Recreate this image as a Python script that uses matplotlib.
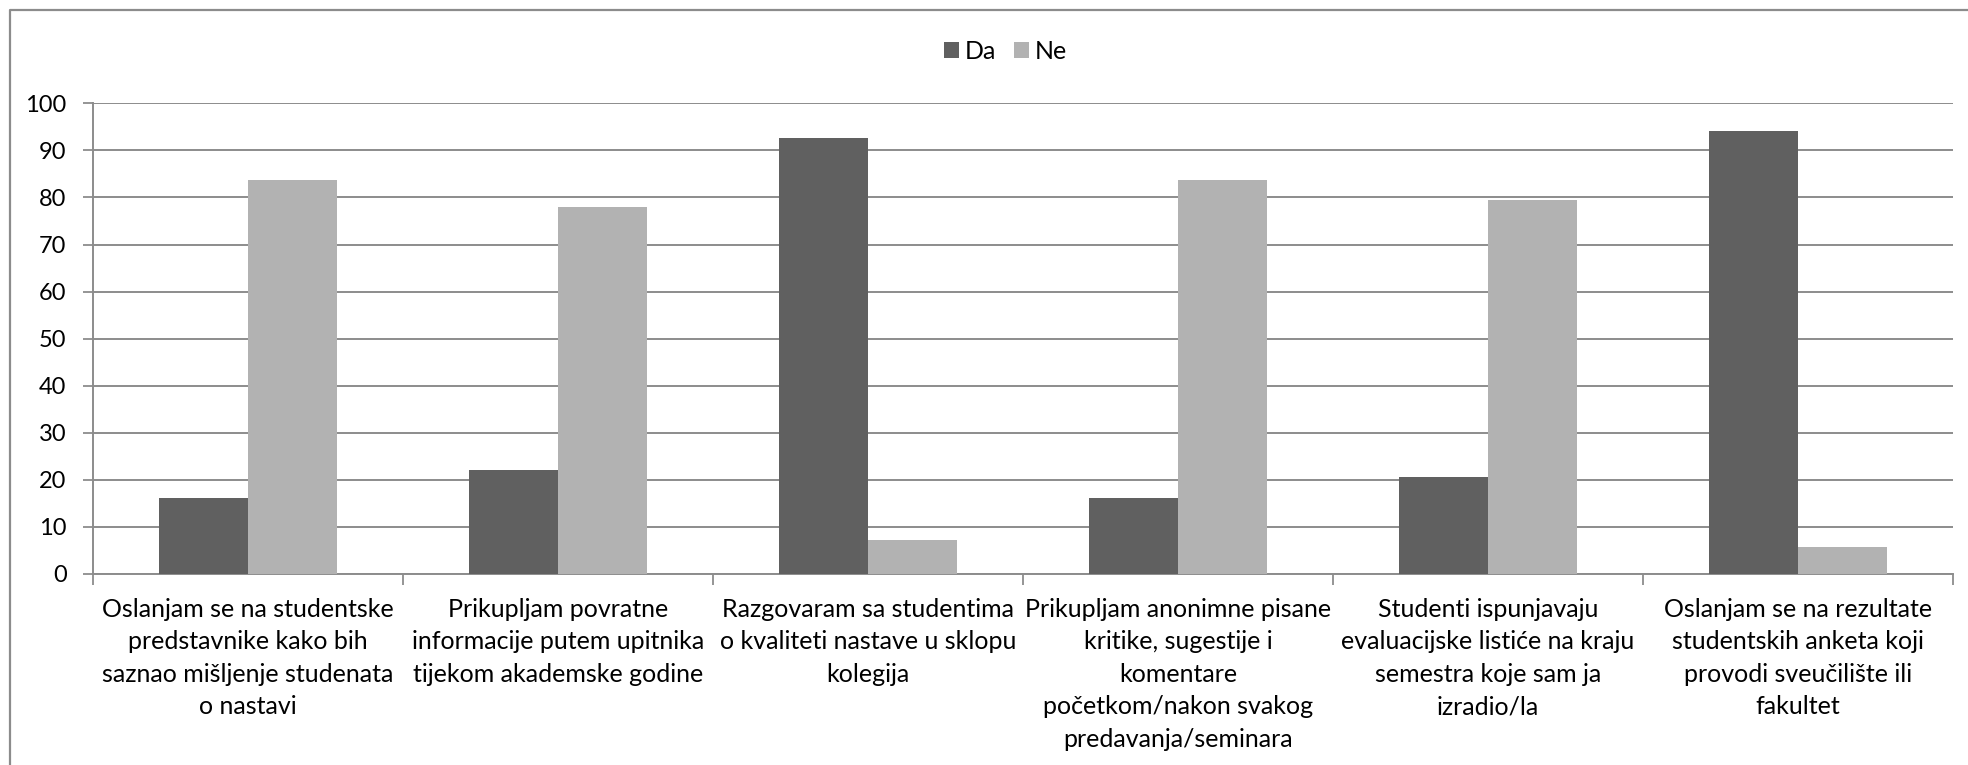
import matplotlib
matplotlib.use('Agg')
import matplotlib.pyplot as plt
from matplotlib.lines import Line2D
import numpy as np

# Survey answers (percent)
categories = [
    "Oslanjam se na studentske\npredstavnike kako bih\nsaznao mišljenje studenata\no nastavi",
    "Prikupljam povratne\ninformacije putem upitnika\ntijekom akademske godine",
    "Razgovaram sa studentima\no kvaliteti nastave u sklopu\nkolegija",
    "Prikupljam anonimne pisane\nkritike, sugestije i\nkomentare\npočetkom/nakon svakog\npredavanja/seminara",
    "Studenti ispunjavaju\nevaluacijske listiće na kraju\nsemestra koje sam ja\nizradio/la",
    "Oslanjam se na rezultate\nstudentskih anketa koji\nprovodi sveučilište ili\nfakultet",
]
da = [16.2, 22.1, 92.7, 16.2, 20.6, 94.2]
ne = [83.8, 77.9, 7.3, 83.8, 79.4, 5.8]
series_names = ["Da", "Ne"]
yticks = [0, 10, 20, 30, 40, 50, 60, 70, 80, 90, 100]

plt.rcParams['font.family'] = ['Lato', 'DejaVu Sans']

fig = plt.figure(figsize=(19.68, 7.65), dpi=100)
ax = fig.add_axes([93/1968, 191/765, 1860/1968, 470.7/765])

x = np.arange(len(categories))
w = 1/3.5
ax.bar(x - w/2, da, width=w, color='#606060', label=series_names[0], zorder=3)
ax.bar(x + w/2, ne, width=w, color='#b2b2b2', label=series_names[1], zorder=3)

ax.set_xlim(-0.5, len(categories) - 0.5)
ax.set_ylim(0, 100)
ax.set_yticks(yticks)
ax.yaxis.grid(True, color='#8c8c8c', linewidth=1.4, zorder=0)

# category boundaries carry the tick marks, labels sit in the middle
ax.set_xticks(np.arange(len(categories) + 1) - 0.5)
ax.set_xticklabels([])
ax.set_xticks(x, minor=True)
ax.set_xticklabels(categories, minor=True, fontsize=18, linespacing=1.5)
ax.tick_params(axis='x', which='major', length=8, width=1.3, color='#8c8c8c')
ax.tick_params(axis='x', which='minor', length=0, pad=17)
ax.tick_params(axis='y', length=7, width=1.3, color='#8c8c8c', labelsize=17, pad=12)

for s in ['top', 'right']:
    ax.spines[s].set_visible(False)
for s in ['left', 'bottom']:
    ax.spines[s].set_color('#8c8c8c')
    ax.spines[s].set_linewidth(1.4)

fig.legend(loc='center', bbox_to_anchor=(0.511, 0.933), ncol=2, frameon=False,
           fontsize=18, handlelength=0.6, handleheight=0.6, handletextpad=0.25,
           columnspacing=0.7)

# chart-area border (left and top only visible)
fig.add_artist(Line2D([10/1968, 10/1968, 1], [0, 1 - 10/765, 1 - 10/765],
                      transform=fig.transFigure, color='#8c8c8c', linewidth=1.6))

fig.savefig('out.png', dpi=100)
